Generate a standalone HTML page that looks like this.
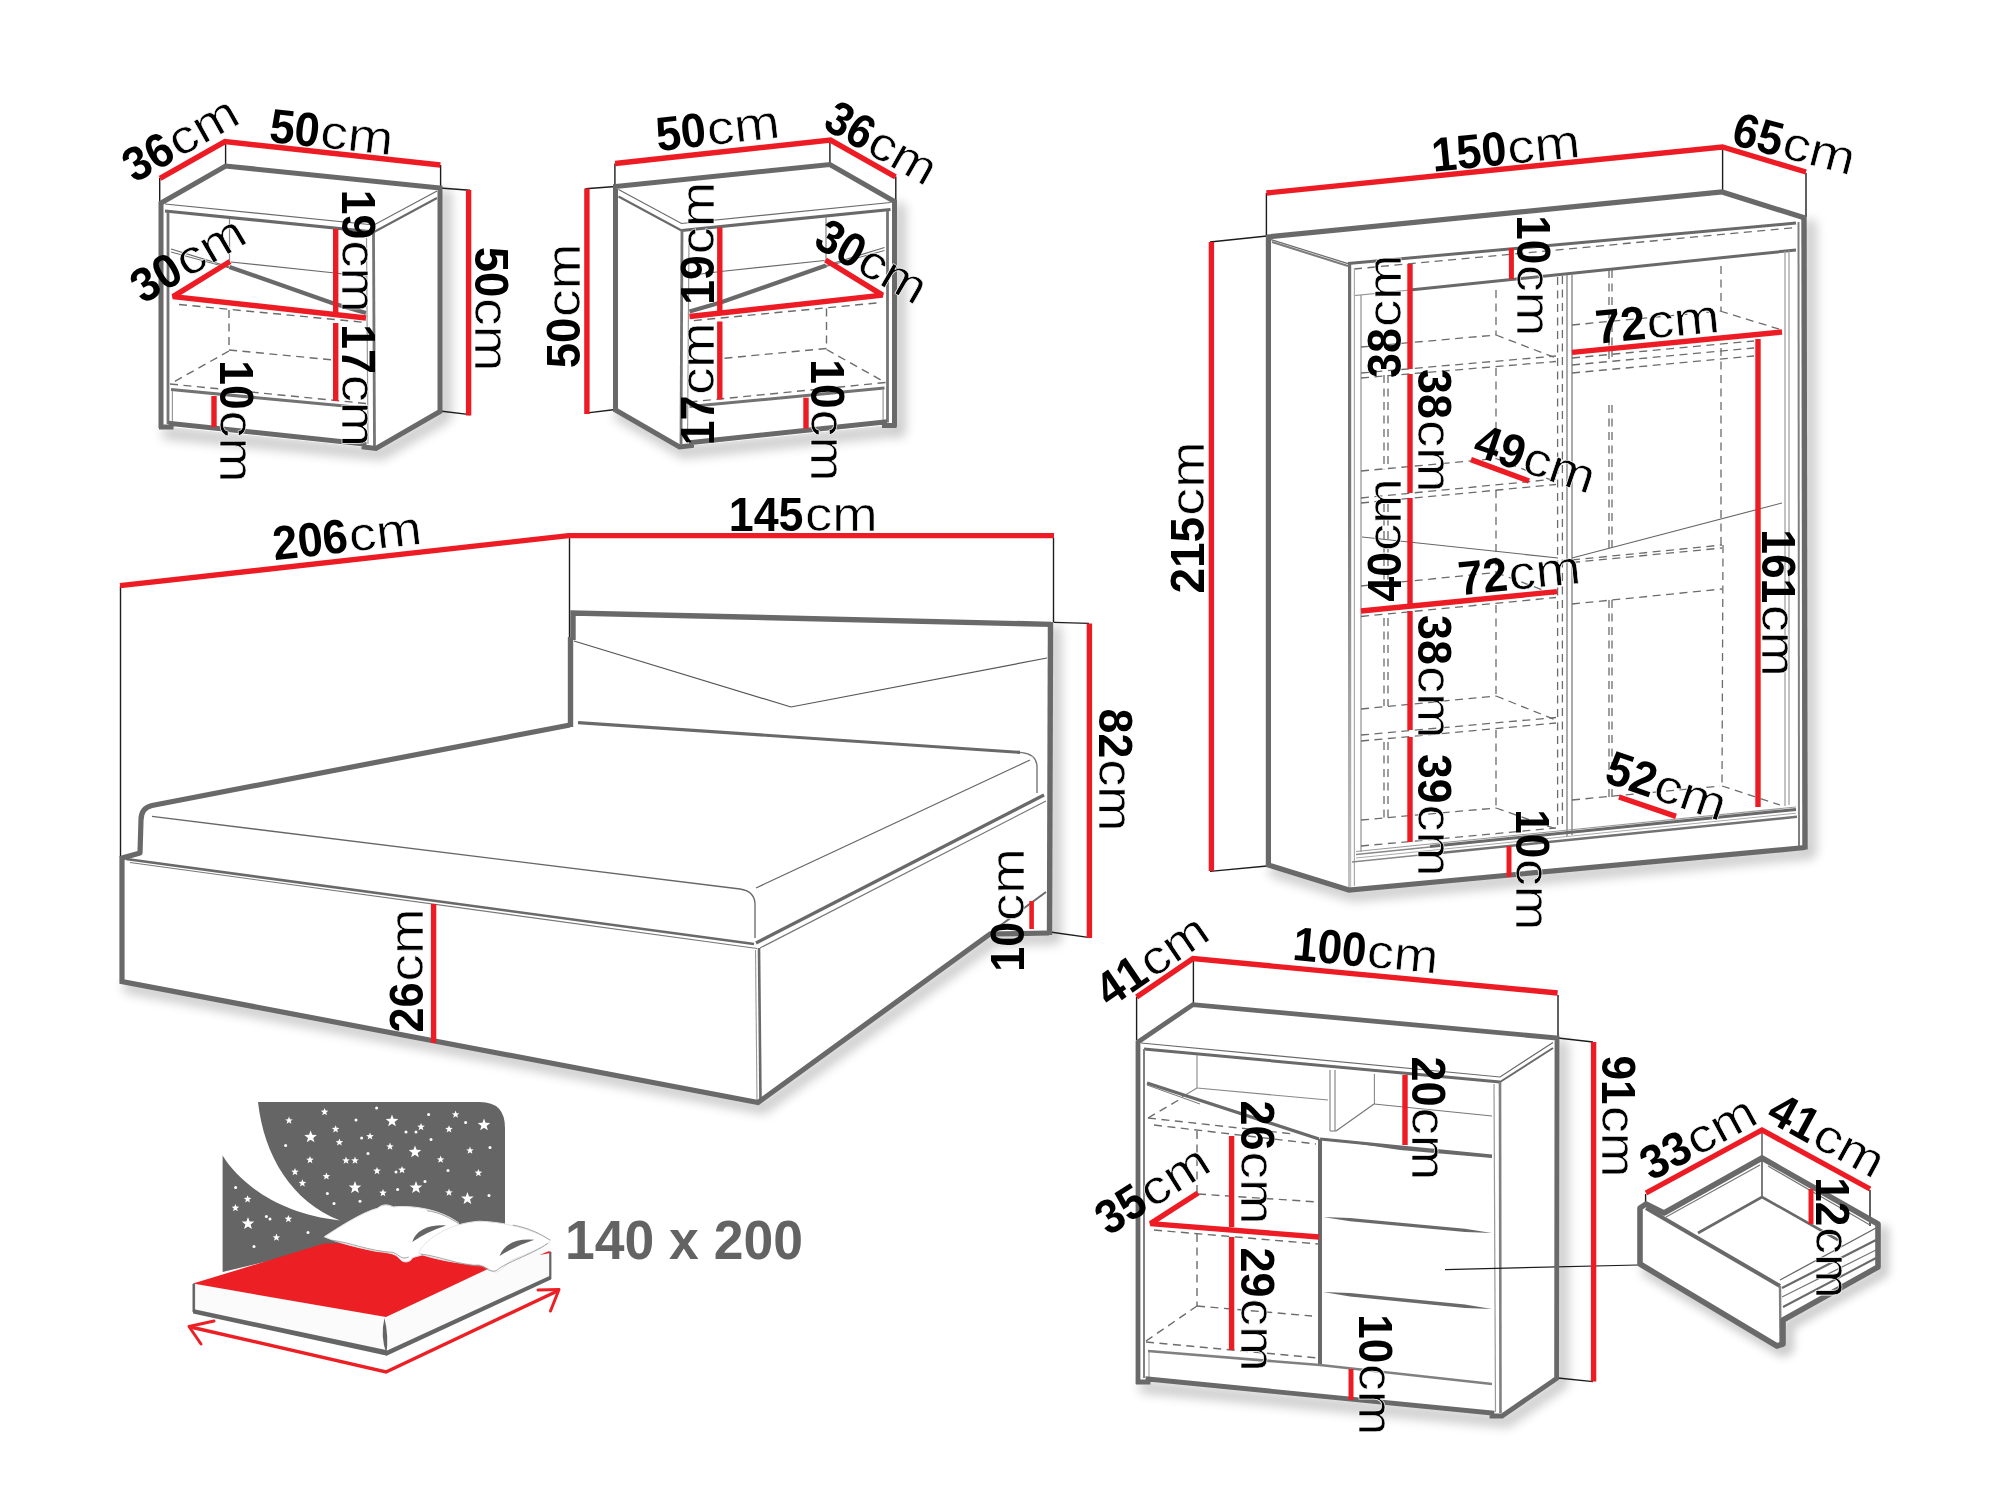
<!DOCTYPE html>
<html lang="en"><head><meta charset="utf-8"><title>Bedroom set dimensions</title>
<style>
html,body{margin:0;padding:0;background:#fff;}
body{width:2000px;height:1500px;overflow:hidden;}
svg{display:block;will-change:transform;}
text{font-family:"Liberation Sans",sans-serif;}
.n{font-weight:bold;}
.u{font-weight:normal;stroke:#fff;stroke-width:0.6px;}
</style></head><body>
<svg width="2000" height="1500" viewBox="0 0 2000 1500">
<defs>
<filter id="b5" filterUnits="userSpaceOnUse" x="0" y="0" width="2000" height="1500"><feGaussianBlur stdDeviation="5"/></filter>
<filter id="b5_5" filterUnits="userSpaceOnUse" x="0" y="0" width="2000" height="1500"><feGaussianBlur stdDeviation="5.5"/></filter>
</defs>
<rect width="2000" height="1500" fill="#fff"/>
<!-- nightstand left -->
<polyline points="445,195 445,416.5 381,453.5 168,433" fill="none" stroke="#000" stroke-width="13" stroke-linejoin="round" stroke-linecap="round" opacity="0.2" filter="url(#b5_5)"/>
<polygon points="161,203 225.6,166 440,188 440,411.5 376,448.5 364,447 171,427 161,428" fill="#fff" stroke="none" stroke-width="0"/>
<line x1="159.7" y1="178" x2="159.7" y2="203" stroke="#1c1c1c" stroke-width="1.4"/>
<line x1="225.6" y1="143" x2="225.6" y2="166" stroke="#1c1c1c" stroke-width="1.4"/>
<line x1="440.6" y1="165" x2="440.6" y2="188" stroke="#1c1c1c" stroke-width="1.4"/>
<line x1="440" y1="188" x2="470" y2="190.3" stroke="#1c1c1c" stroke-width="1.4"/>
<line x1="440" y1="411" x2="470" y2="414.6" stroke="#1c1c1c" stroke-width="1.4"/>
<polyline points="165,204 374,225 437,191" fill="none" stroke="#6a6a6a" stroke-width="1.2"/>
<line x1="165" y1="211" x2="374" y2="232" stroke="#696969" stroke-width="3.2"/>
<line x1="374" y1="232" x2="437" y2="198" stroke="#696969" stroke-width="2"/>
<line x1="168" y1="212" x2="168" y2="424" stroke="#757575" stroke-width="2.8"/>
<line x1="229.5" y1="219" x2="229.5" y2="262" stroke="#888" stroke-width="1.2"/>
<line x1="171" y1="249" x2="229.5" y2="267" stroke="#6a6a6a" stroke-width="1.2"/>
<line x1="171" y1="252" x2="229.5" y2="268" stroke="#6a6a6a" stroke-width="1"/>
<polyline points="229.5,267 335,304 366,313" fill="none" stroke="#696969" stroke-width="4.2"/>
<polyline points="231,262 335,273 366,277" fill="none" stroke="#6a6a6a" stroke-width="1.2"/>
<line x1="373.5" y1="232" x2="374.5" y2="446" stroke="#757575" stroke-width="2.8"/>
<line x1="366.5" y1="238" x2="368" y2="444" stroke="#999" stroke-width="1.2"/>
<line x1="171" y1="389.6" x2="366" y2="408" stroke="#727272" stroke-width="3"/>
<line x1="172.4" y1="391" x2="172.4" y2="423" stroke="#999" stroke-width="1.2"/>
<line x1="179" y1="304.5" x2="366" y2="322.5" stroke="#6c6c6c" stroke-width="1.4" stroke-dasharray="8 5.5"/>
<line x1="229" y1="310" x2="229" y2="350" stroke="#6c6c6c" stroke-width="1.4" stroke-dasharray="8 5.5"/>
<line x1="229" y1="350" x2="334" y2="360" stroke="#6c6c6c" stroke-width="1.4" stroke-dasharray="8 5.5"/>
<line x1="229" y1="351" x2="170" y2="384" stroke="#6c6c6c" stroke-width="1.4" stroke-dasharray="8 5.5"/>
<line x1="170" y1="384" x2="366" y2="403.5" stroke="#6c6c6c" stroke-width="1.4" stroke-dasharray="8 5.5"/>
<polyline points="161,428 161,203 225.6,166 440,188 440,411.5 376,448.5 364,447 364,444 171,423.5 171,427 159,427" fill="none" stroke="#696969" stroke-width="5"/>
<polyline points="160,178.4 225,141.6 440.4,165" fill="none" stroke="#ed1c24" stroke-width="5.4"/>
<line x1="468.6" y1="190" x2="468.6" y2="415.6" stroke="#ed1c24" stroke-width="5.4"/>
<polyline points="230,261.5 173,296.6 366,318" fill="none" stroke="#ed1c24" stroke-width="5.4" stroke-linejoin="bevel"/>
<line x1="335.7" y1="229" x2="335.7" y2="313" stroke="#ed1c24" stroke-width="5.4"/>
<line x1="335.7" y1="323" x2="335.7" y2="401" stroke="#ed1c24" stroke-width="5.4"/>
<line x1="214" y1="396" x2="214" y2="427" stroke="#ed1c24" stroke-width="5.4"/>
<g transform="translate(135 183) rotate(-29.50) scale(1.000 1) translate(-0.99 0)" fill="#000"><text class="n" font-size="48" transform="scale(0.940 1)">36</text><text class="u" font-size="47.5" transform="translate(51.29 0) scale(1.155 1)">cm</text></g>
<g transform="translate(269.5 142) rotate(6.20) scale(1.000 1) translate(-1.35 0)" fill="#000"><text class="n" font-size="48" transform="scale(0.940 1)">50</text><text class="u" font-size="47.5" transform="translate(51.06 0) scale(1.155 1)">cm</text></g>
<g transform="translate(341.5 192.5) rotate(90.00) scale(0.987 1) translate(-2.80 0)" fill="#000"><text class="n" font-size="48" transform="scale(0.940 1)">19</text><text class="u" font-size="47.5" transform="translate(51.24 0) scale(1.155 1)">cm</text></g>
<g transform="translate(341.5 327) rotate(90.00) scale(0.990 1) translate(-2.80 0)" fill="#000"><text class="n" font-size="48" transform="scale(0.940 1)">17</text><text class="u" font-size="47.5" transform="translate(50.93 0) scale(1.155 1)">cm</text></g>
<g transform="translate(143.5 304) rotate(-30.50) scale(1.000 1) translate(-0.99 0)" fill="#000"><text class="n" font-size="48" transform="scale(0.940 1)">30</text><text class="u" font-size="47.5" transform="translate(51.06 0) scale(1.155 1)">cm</text></g>
<g transform="translate(220 363) rotate(90.00) scale(0.984 1) translate(-2.80 0)" fill="#000"><text class="n" font-size="48" transform="scale(0.940 1)">10</text><text class="u" font-size="47.5" transform="translate(51.06 0) scale(1.155 1)">cm</text></g>
<g transform="translate(475 248) rotate(90.00) scale(1.006 1) translate(-1.35 0)" fill="#000"><text class="n" font-size="48" transform="scale(0.940 1)">50</text><text class="u" font-size="47.5" transform="translate(51.06 0) scale(1.155 1)">cm</text></g>
<!-- nightstand right -->
<polyline points="899.5,208.5 899.5,431.5 889.5,430.5 696.5,450.5 684.5,452 620.5,415" fill="none" stroke="#000" stroke-width="13" stroke-linejoin="round" stroke-linecap="round" opacity="0.2" filter="url(#b5_5)"/>
<polygon points="894.5,201.5 829.9,164.5 615.5,186.5 615.5,410 679.5,447 691.5,445.5 884.5,425.5 894.5,426.5" fill="#fff" stroke="none" stroke-width="0"/>
<line x1="895.8" y1="176.5" x2="895.8" y2="201.5" stroke="#1c1c1c" stroke-width="1.4"/>
<line x1="829.9" y1="141.5" x2="829.9" y2="164.5" stroke="#1c1c1c" stroke-width="1.4"/>
<line x1="614.9" y1="163.5" x2="614.9" y2="186.5" stroke="#1c1c1c" stroke-width="1.4"/>
<line x1="615.5" y1="186.5" x2="585.5" y2="188.8" stroke="#1c1c1c" stroke-width="1.4"/>
<line x1="615.5" y1="409.5" x2="585.5" y2="413.1" stroke="#1c1c1c" stroke-width="1.4"/>
<polyline points="890.5,202.5 681.5,223.5 618.5,189.5" fill="none" stroke="#6a6a6a" stroke-width="1.2"/>
<line x1="890.5" y1="209.5" x2="681.5" y2="230.5" stroke="#696969" stroke-width="3.2"/>
<line x1="681.5" y1="230.5" x2="618.5" y2="196.5" stroke="#696969" stroke-width="2"/>
<line x1="887.5" y1="210.5" x2="887.5" y2="422.5" stroke="#757575" stroke-width="2.8"/>
<line x1="826" y1="217.5" x2="826" y2="260.5" stroke="#888" stroke-width="1.2"/>
<line x1="884.5" y1="247.5" x2="826" y2="265.5" stroke="#6a6a6a" stroke-width="1.2"/>
<line x1="884.5" y1="250.5" x2="826" y2="266.5" stroke="#6a6a6a" stroke-width="1"/>
<polyline points="826,265.5 720.5,302.5 689.5,311.5" fill="none" stroke="#696969" stroke-width="4.2"/>
<polyline points="824.5,260.5 720.5,271.5 689.5,275.5" fill="none" stroke="#6a6a6a" stroke-width="1.2"/>
<line x1="682" y1="230.5" x2="681" y2="444.5" stroke="#757575" stroke-width="2.8"/>
<line x1="689" y1="236.5" x2="687.5" y2="442.5" stroke="#999" stroke-width="1.2"/>
<line x1="884.5" y1="388.1" x2="689.5" y2="406.5" stroke="#727272" stroke-width="3"/>
<line x1="883.1" y1="389.5" x2="883.1" y2="421.5" stroke="#999" stroke-width="1.2"/>
<line x1="876.5" y1="303" x2="689.5" y2="321" stroke="#6c6c6c" stroke-width="1.4" stroke-dasharray="8 5.5"/>
<line x1="826.5" y1="308.5" x2="826.5" y2="348.5" stroke="#6c6c6c" stroke-width="1.4" stroke-dasharray="8 5.5"/>
<line x1="826.5" y1="348.5" x2="721.5" y2="358.5" stroke="#6c6c6c" stroke-width="1.4" stroke-dasharray="8 5.5"/>
<line x1="826.5" y1="349.5" x2="885.5" y2="382.5" stroke="#6c6c6c" stroke-width="1.4" stroke-dasharray="8 5.5"/>
<line x1="885.5" y1="382.5" x2="689.5" y2="402" stroke="#6c6c6c" stroke-width="1.4" stroke-dasharray="8 5.5"/>
<polyline points="894.5,426.5 894.5,201.5 829.9,164.5 615.5,186.5 615.5,410 679.5,447 691.5,445.5 691.5,442.5 884.5,422 884.5,425.5 896.5,425.5" fill="none" stroke="#696969" stroke-width="5"/>
<polyline points="895.5,176.9 830.5,140.1 615.1,163.5" fill="none" stroke="#ed1c24" stroke-width="5.4"/>
<line x1="586.9" y1="188.5" x2="586.9" y2="414.1" stroke="#ed1c24" stroke-width="5.4"/>
<polyline points="825.5,260 882.5,295.1 689.5,316.5" fill="none" stroke="#ed1c24" stroke-width="5.4" stroke-linejoin="bevel"/>
<line x1="719.8" y1="227.5" x2="719.8" y2="311.5" stroke="#ed1c24" stroke-width="5.4"/>
<line x1="719.8" y1="321.5" x2="719.8" y2="399.5" stroke="#ed1c24" stroke-width="5.4"/>
<line x1="806" y1="397.7" x2="806" y2="428.5" stroke="#ed1c24" stroke-width="5.4"/>
<g transform="translate(659 151) rotate(-6.40) scale(1.000 1) translate(-1.35 0)" fill="#000"><text class="n" font-size="48" transform="scale(0.940 1)">50</text><text class="u" font-size="47.5" transform="translate(51.06 0) scale(1.155 1)">cm</text></g>
<g transform="translate(822 128) rotate(29.50) scale(0.968 1) translate(-0.99 0)" fill="#000"><text class="n" font-size="48" transform="scale(0.940 1)">36</text><text class="u" font-size="47.5" transform="translate(51.29 0) scale(1.155 1)">cm</text></g>
<g transform="translate(580 367) rotate(-90.00) scale(1.006 1) translate(-1.35 0)" fill="#000"><text class="n" font-size="48" transform="scale(0.940 1)">50</text><text class="u" font-size="47.5" transform="translate(51.06 0) scale(1.155 1)">cm</text></g>
<g transform="translate(714 302) rotate(-90.00) scale(0.987 1) translate(-2.80 0)" fill="#000"><text class="n" font-size="48" transform="scale(0.940 1)">19</text><text class="u" font-size="47.5" transform="translate(51.24 0) scale(1.155 1)">cm</text></g>
<g transform="translate(714 442.5) rotate(-90.00) scale(0.990 1) translate(-2.80 0)" fill="#000"><text class="n" font-size="48" transform="scale(0.940 1)">17</text><text class="u" font-size="47.5" transform="translate(50.93 0) scale(1.155 1)">cm</text></g>
<g transform="translate(812.5 246) rotate(30.00) scale(0.970 1) translate(-0.99 0)" fill="#000"><text class="n" font-size="48" transform="scale(0.940 1)">30</text><text class="u" font-size="47.5" transform="translate(51.06 0) scale(1.155 1)">cm</text></g>
<g transform="translate(811 362) rotate(90.00) scale(0.984 1) translate(-2.80 0)" fill="#000"><text class="n" font-size="48" transform="scale(0.940 1)">10</text><text class="u" font-size="47.5" transform="translate(51.06 0) scale(1.155 1)">cm</text></g>
<!-- wardrobe -->
<polyline points="1810,225 1810,852.5 1354,895 1275,871" fill="none" stroke="#000" stroke-width="13" stroke-linejoin="round" stroke-linecap="round" opacity="0.2" filter="url(#b5_5)"/>
<polygon points="1268.4,237 1722,192 1805,218 1805,847.5 1349,890 1268.4,865" fill="#fff" stroke="none" stroke-width="0"/>
<line x1="1266.4" y1="193" x2="1266.4" y2="236" stroke="#1c1c1c" stroke-width="1.4"/>
<line x1="1722.6" y1="149" x2="1722.6" y2="191" stroke="#1c1c1c" stroke-width="1.4"/>
<line x1="1806" y1="173" x2="1806" y2="217" stroke="#1c1c1c" stroke-width="1.4"/>
<line x1="1210" y1="242" x2="1267" y2="236" stroke="#1c1c1c" stroke-width="1.4"/>
<line x1="1210" y1="871.4" x2="1267" y2="866" stroke="#1c1c1c" stroke-width="1.4"/>
<line x1="1271" y1="239.6" x2="1348" y2="263.6" stroke="#6a6a6a" stroke-width="1.2"/>
<line x1="1272" y1="242" x2="1348" y2="266" stroke="#7a7a7a" stroke-width="2"/>
<line x1="1348" y1="263.6" x2="1796" y2="223" stroke="#696969" stroke-width="3"/>
<line x1="1354" y1="295.6" x2="1410" y2="290" stroke="#999" stroke-width="1.2"/>
<line x1="1410" y1="290" x2="1796" y2="250" stroke="#696969" stroke-width="3"/>
<line x1="1354" y1="269" x2="1796" y2="227.5" stroke="#6c6c6c" stroke-width="1.3" stroke-dasharray="8 5.5"/>
<linearGradient id="gw" gradientUnits="userSpaceOnUse" x1="0" y1="264" x2="0" y2="890"><stop offset="0" stop-color="#6e6e6e"/><stop offset="0.4" stop-color="#7a7a7a"/><stop offset="0.7" stop-color="#a4a4a4"/><stop offset="1" stop-color="#c2c2c2"/></linearGradient>
<line x1="1349.6" y1="264" x2="1349.6" y2="890" stroke="url(#gw)" stroke-width="3.2"/>
<line x1="1354.4" y1="268" x2="1354.4" y2="886" stroke="#aaa" stroke-width="1.2"/>
<line x1="1361" y1="295" x2="1361" y2="852" stroke="#999" stroke-width="1.3"/>
<line x1="1557.6" y1="277" x2="1557.6" y2="828" stroke="#6c6c6c" stroke-width="1.3" stroke-dasharray="8 5.5"/>
<line x1="1562.4" y1="276" x2="1562.4" y2="828" stroke="#6c6c6c" stroke-width="1.3" stroke-dasharray="8 5.5"/>
<line x1="1567" y1="275" x2="1567" y2="836" stroke="#888" stroke-width="1.4"/>
<line x1="1572" y1="274.5" x2="1572" y2="835" stroke="#888" stroke-width="1.4"/>
<line x1="1785" y1="251" x2="1785" y2="806" stroke="#999" stroke-width="1.2"/>
<line x1="1789" y1="250.5" x2="1789" y2="805" stroke="#999" stroke-width="1.2"/>
<line x1="1798.5" y1="222" x2="1799" y2="846" stroke="#808080" stroke-width="2"/>
<line x1="1384" y1="375" x2="1384" y2="470" stroke="#6c6c6c" stroke-width="1.3" stroke-dasharray="8 5.5"/>
<line x1="1388" y1="375" x2="1388" y2="468" stroke="#6c6c6c" stroke-width="1.3" stroke-dasharray="8 5.5"/>
<line x1="1384" y1="504" x2="1384" y2="586" stroke="#6c6c6c" stroke-width="1.3" stroke-dasharray="8 5.5"/>
<line x1="1388" y1="504" x2="1388" y2="586" stroke="#6c6c6c" stroke-width="1.3" stroke-dasharray="8 5.5"/>
<line x1="1384" y1="618" x2="1384" y2="706" stroke="#6c6c6c" stroke-width="1.3" stroke-dasharray="8 5.5"/>
<line x1="1388" y1="618" x2="1388" y2="706" stroke="#6c6c6c" stroke-width="1.3" stroke-dasharray="8 5.5"/>
<line x1="1384" y1="742" x2="1384" y2="818" stroke="#6c6c6c" stroke-width="1.3" stroke-dasharray="8 5.5"/>
<line x1="1388" y1="742" x2="1388" y2="818" stroke="#6c6c6c" stroke-width="1.3" stroke-dasharray="8 5.5"/>
<line x1="1496" y1="290" x2="1496" y2="335" stroke="#6c6c6c" stroke-width="1.3" stroke-dasharray="8 5.5"/>
<line x1="1496" y1="368" x2="1496" y2="458" stroke="#6c6c6c" stroke-width="1.3" stroke-dasharray="8 5.5"/>
<line x1="1496" y1="490" x2="1496" y2="572" stroke="#6c6c6c" stroke-width="1.3" stroke-dasharray="8 5.5"/>
<line x1="1496" y1="605" x2="1496" y2="696" stroke="#6c6c6c" stroke-width="1.3" stroke-dasharray="8 5.5"/>
<line x1="1496" y1="730" x2="1496" y2="808" stroke="#6c6c6c" stroke-width="1.3" stroke-dasharray="8 5.5"/>
<line x1="1361" y1="347" x2="1496" y2="335" stroke="#6c6c6c" stroke-width="1.3" stroke-dasharray="8 5.5"/>
<line x1="1496" y1="335" x2="1556" y2="358" stroke="#6c6c6c" stroke-width="1.3" stroke-dasharray="8 5.5"/>
<line x1="1361" y1="373" x2="1556" y2="356" stroke="#6c6c6c" stroke-width="1.3" stroke-dasharray="8 5.5"/>
<line x1="1361" y1="378" x2="1556" y2="361.5" stroke="#6c6c6c" stroke-width="1.3" stroke-dasharray="8 5.5"/>
<line x1="1361" y1="471" x2="1496" y2="458.5" stroke="#6c6c6c" stroke-width="1.3" stroke-dasharray="8 5.5"/>
<line x1="1496" y1="458.5" x2="1556" y2="482" stroke="#6c6c6c" stroke-width="1.3" stroke-dasharray="8 5.5"/>
<line x1="1361" y1="498" x2="1556" y2="479" stroke="#6c6c6c" stroke-width="1.3" stroke-dasharray="8 5.5"/>
<line x1="1361" y1="503" x2="1556" y2="484.5" stroke="#6c6c6c" stroke-width="1.3" stroke-dasharray="8 5.5"/>
<line x1="1361" y1="586" x2="1496" y2="572.5" stroke="#6c6c6c" stroke-width="1.3" stroke-dasharray="8 5.5"/>
<line x1="1496" y1="572.5" x2="1556" y2="595" stroke="#6c6c6c" stroke-width="1.3" stroke-dasharray="8 5.5"/>
<line x1="1361" y1="616.5" x2="1556" y2="597.5" stroke="#6c6c6c" stroke-width="1.3" stroke-dasharray="8 5.5"/>
<line x1="1361" y1="709" x2="1496" y2="696" stroke="#6c6c6c" stroke-width="1.3" stroke-dasharray="8 5.5"/>
<line x1="1496" y1="696" x2="1556" y2="720" stroke="#6c6c6c" stroke-width="1.3" stroke-dasharray="8 5.5"/>
<line x1="1361" y1="735" x2="1556" y2="717.5" stroke="#6c6c6c" stroke-width="1.3" stroke-dasharray="8 5.5"/>
<line x1="1361" y1="741" x2="1556" y2="723" stroke="#6c6c6c" stroke-width="1.3" stroke-dasharray="8 5.5"/>
<line x1="1361" y1="820" x2="1496" y2="808" stroke="#6c6c6c" stroke-width="1.3" stroke-dasharray="8 5.5"/>
<line x1="1496" y1="808" x2="1556" y2="829" stroke="#6c6c6c" stroke-width="1.3" stroke-dasharray="8 5.5"/>
<line x1="1361" y1="846" x2="1556" y2="828" stroke="#6c6c6c" stroke-width="1.3" stroke-dasharray="8 5.5"/>
<line x1="1362" y1="537" x2="1558" y2="558" stroke="#666" stroke-width="1.1"/>
<line x1="1572" y1="558" x2="1782" y2="503" stroke="#666" stroke-width="1.1"/>
<line x1="1609" y1="270" x2="1609" y2="360" stroke="#6c6c6c" stroke-width="1.3" stroke-dasharray="8 5.5"/>
<line x1="1612" y1="270" x2="1612" y2="357" stroke="#6c6c6c" stroke-width="1.3" stroke-dasharray="8 5.5"/>
<line x1="1609" y1="405" x2="1609" y2="553" stroke="#6c6c6c" stroke-width="1.3" stroke-dasharray="8 5.5"/>
<line x1="1612" y1="405" x2="1612" y2="550" stroke="#6c6c6c" stroke-width="1.3" stroke-dasharray="8 5.5"/>
<line x1="1609" y1="600" x2="1609" y2="797" stroke="#6c6c6c" stroke-width="1.3" stroke-dasharray="8 5.5"/>
<line x1="1612" y1="600" x2="1612" y2="797" stroke="#6c6c6c" stroke-width="1.3" stroke-dasharray="8 5.5"/>
<line x1="1721" y1="266" x2="1721" y2="311" stroke="#6c6c6c" stroke-width="1.3" stroke-dasharray="8 5.5"/>
<line x1="1721" y1="348" x2="1721" y2="545" stroke="#6c6c6c" stroke-width="1.3" stroke-dasharray="8 5.5"/>
<line x1="1723" y1="545" x2="1722" y2="786" stroke="#6c6c6c" stroke-width="1.3" stroke-dasharray="8 5.5"/>
<line x1="1572" y1="325" x2="1720" y2="311" stroke="#6c6c6c" stroke-width="1.3" stroke-dasharray="8 5.5"/>
<line x1="1720" y1="311" x2="1782" y2="330" stroke="#6c6c6c" stroke-width="1.3" stroke-dasharray="8 5.5"/>
<line x1="1572" y1="358" x2="1754" y2="341" stroke="#6c6c6c" stroke-width="1.3" stroke-dasharray="8 5.5"/>
<line x1="1572" y1="365" x2="1754" y2="348" stroke="#6c6c6c" stroke-width="1.3" stroke-dasharray="8 5.5"/>
<line x1="1572" y1="373" x2="1754" y2="356" stroke="#6c6c6c" stroke-width="1.3" stroke-dasharray="8 5.5"/>
<line x1="1572" y1="560" x2="1722" y2="545" stroke="#6c6c6c" stroke-width="1.3" stroke-dasharray="8 5.5"/>
<line x1="1572" y1="562.5" x2="1722" y2="548" stroke="#6c6c6c" stroke-width="1.3" stroke-dasharray="8 5.5"/>
<line x1="1572" y1="604" x2="1722" y2="589" stroke="#6c6c6c" stroke-width="1.3" stroke-dasharray="8 5.5"/>
<line x1="1572" y1="800" x2="1720" y2="786" stroke="#6c6c6c" stroke-width="1.3" stroke-dasharray="8 5.5"/>
<line x1="1722" y1="786" x2="1780" y2="805" stroke="#6c6c6c" stroke-width="1.3" stroke-dasharray="8 5.5"/>
<line x1="1356" y1="851.5" x2="1796" y2="807" stroke="#999" stroke-width="1.1"/>
<line x1="1356" y1="854.5" x2="1430" y2="847" stroke="#888" stroke-width="1.3"/>
<line x1="1430" y1="846.6" x2="1796" y2="809.4" stroke="#696969" stroke-width="3"/>
<line x1="1356" y1="858" x2="1796" y2="813.2" stroke="#aaa" stroke-width="1"/>
<line x1="1352" y1="862" x2="1440" y2="853" stroke="#888" stroke-width="1.4"/>
<line x1="1440" y1="853" x2="1797" y2="816.8" stroke="#727272" stroke-width="2.6"/>
<polyline points="1267,237 1722,192 1805,218" fill="none" stroke="#696969" stroke-width="5.2"/>
<polyline points="1268.4,235 1268.4,865 1349,890 1805,847.5" fill="none" stroke="#696969" stroke-width="5.2"/>
<line x1="1804" y1="216" x2="1805" y2="849.5" stroke="#696969" stroke-width="5.4"/>
<polyline points="1266.4,193 1722.4,147 1806,172" fill="none" stroke="#ed1c24" stroke-width="5.4"/>
<line x1="1211.4" y1="242" x2="1211.4" y2="871" stroke="#ed1c24" stroke-width="5.4"/>
<line x1="1511.4" y1="248" x2="1511.4" y2="279" stroke="#ed1c24" stroke-width="5"/>
<line x1="1410" y1="264" x2="1410" y2="369" stroke="#ed1c24" stroke-width="5.4"/>
<line x1="1410" y1="374" x2="1410" y2="493" stroke="#ed1c24" stroke-width="5.4"/>
<line x1="1410" y1="498" x2="1410" y2="607" stroke="#ed1c24" stroke-width="5.4"/>
<line x1="1410" y1="611" x2="1410" y2="730" stroke="#ed1c24" stroke-width="5.4"/>
<line x1="1410" y1="737" x2="1410" y2="842" stroke="#ed1c24" stroke-width="5.4"/>
<line x1="1572" y1="352.4" x2="1782" y2="332" stroke="#ed1c24" stroke-width="5.4"/>
<line x1="1758" y1="339" x2="1758" y2="807" stroke="#ed1c24" stroke-width="5.4"/>
<line x1="1471" y1="459.6" x2="1529" y2="481" stroke="#ed1c24" stroke-width="5.4"/>
<line x1="1361" y1="611" x2="1557" y2="591.6" stroke="#ed1c24" stroke-width="5.4"/>
<line x1="1619" y1="797" x2="1676" y2="816.4" stroke="#ed1c24" stroke-width="5.4"/>
<line x1="1509" y1="846" x2="1509" y2="877" stroke="#ed1c24" stroke-width="5"/>
<g transform="translate(1436 171.5) rotate(-5.65) scale(0.997 1) translate(-2.80 0)" fill="#000"><text class="n" font-size="48" transform="scale(0.940 1)">150</text><text class="u" font-size="47.5" transform="translate(76.15 0) scale(1.155 1)">cm</text></g>
<g transform="translate(1731.5 144.5) rotate(14.50) scale(1.000 1) translate(-1.62 0)" fill="#000"><text class="n" font-size="48" transform="scale(0.940 1)">65</text><text class="u" font-size="47.5" transform="translate(51.65 0) scale(1.155 1)">cm</text></g>
<g transform="translate(1204 592) rotate(-90.00) scale(1.015 1) translate(-1.53 0)" fill="#000"><text class="n" font-size="48" transform="scale(0.940 1)">215</text><text class="u" font-size="47.5" transform="translate(76.74 0) scale(1.155 1)">cm</text></g>
<g transform="translate(1517 218) rotate(90.00) scale(0.976 1) translate(-2.80 0)" fill="#000"><text class="n" font-size="48" transform="scale(0.940 1)">10</text><text class="u" font-size="47.5" transform="translate(51.06 0) scale(1.155 1)">cm</text></g>
<g transform="translate(1401 377) rotate(-90.00) scale(0.991 1) translate(-0.99 0)" fill="#000"><text class="n" font-size="48" transform="scale(0.940 1)">38</text><text class="u" font-size="47.5" transform="translate(51.52 0) scale(1.155 1)">cm</text></g>
<g transform="translate(1418 370) rotate(90.00) scale(0.991 1) translate(-0.99 0)" fill="#000"><text class="n" font-size="48" transform="scale(0.940 1)">38</text><text class="u" font-size="47.5" transform="translate(51.52 0) scale(1.155 1)">cm</text></g>
<g transform="translate(1599 343.5) rotate(-5.50) scale(1.000 1) translate(-1.90 0)" fill="#000"><text class="n" font-size="48" transform="scale(0.940 1)">72</text><text class="u" font-size="47.5" transform="translate(51.11 0) scale(1.155 1)">cm</text></g>
<g transform="translate(1472 455) rotate(18.50) scale(1.000 1) translate(-0.68 0)" fill="#000"><text class="n" font-size="48" transform="scale(0.940 1)">49</text><text class="u" font-size="47.5" transform="translate(51.24 0) scale(1.155 1)">cm</text></g>
<g transform="translate(1401 601) rotate(-90.00) scale(0.992 1) translate(-0.68 0)" fill="#000"><text class="n" font-size="48" transform="scale(0.940 1)">40</text><text class="u" font-size="47.5" transform="translate(51.06 0) scale(1.155 1)">cm</text></g>
<g transform="translate(1461.5 595) rotate(-5.60) scale(0.989 1) translate(-1.90 0)" fill="#000"><text class="n" font-size="48" transform="scale(0.940 1)">72</text><text class="u" font-size="47.5" transform="translate(51.11 0) scale(1.155 1)">cm</text></g>
<g transform="translate(1418 616) rotate(90.00) scale(0.991 1) translate(-0.99 0)" fill="#000"><text class="n" font-size="48" transform="scale(0.940 1)">38</text><text class="u" font-size="47.5" transform="translate(51.52 0) scale(1.155 1)">cm</text></g>
<g transform="translate(1418 755) rotate(90.00) scale(0.985 1) translate(-0.99 0)" fill="#000"><text class="n" font-size="48" transform="scale(0.940 1)">39</text><text class="u" font-size="47.5" transform="translate(51.24 0) scale(1.155 1)">cm</text></g>
<g transform="translate(1762 532) rotate(90.00) scale(0.983 1) translate(-2.80 0)" fill="#000"><text class="n" font-size="48" transform="scale(0.940 1)">161</text><text class="u" font-size="47.5" transform="translate(76.74 0) scale(1.155 1)">cm</text></g>
<g transform="translate(1604 782) rotate(18.80) scale(1.000 1) translate(-1.35 0)" fill="#000"><text class="n" font-size="48" transform="scale(0.940 1)">52</text><text class="u" font-size="47.5" transform="translate(51.11 0) scale(1.155 1)">cm</text></g>
<g transform="translate(1516 812) rotate(90.00) scale(0.976 1) translate(-2.80 0)" fill="#000"><text class="n" font-size="48" transform="scale(0.940 1)">10</text><text class="u" font-size="47.5" transform="translate(51.06 0) scale(1.155 1)">cm</text></g>
<!-- bed -->
<polyline points="1055,631 1055,938 995,939 763,1107.5 129,987" fill="none" stroke="#000" stroke-width="13" stroke-linejoin="round" stroke-linecap="round" opacity="0.2" filter="url(#b5_5)"/>
<polygon points="122,858 140,853 141,820 152,805.5 570,725 570.5,637 573,613 1051,624.4 1049.5,935 990,934 758,1102.5 122,981.5" fill="#fff" stroke="none" stroke-width="0"/>
<line x1="120.5" y1="586" x2="120.5" y2="857" stroke="#1c1c1c" stroke-width="1.4"/>
<line x1="569.5" y1="538" x2="569.5" y2="638" stroke="#1c1c1c" stroke-width="1.4"/>
<line x1="1053.5" y1="538" x2="1053.5" y2="622" stroke="#1c1c1c" stroke-width="1.4"/>
<line x1="1053.6" y1="622.4" x2="1089" y2="623.4" stroke="#1c1c1c" stroke-width="1.4"/>
<line x1="1050" y1="932" x2="1090" y2="937.6" stroke="#1c1c1c" stroke-width="1.4"/>
<polyline points="574,641 791,707 1047,658" fill="none" stroke="#555" stroke-width="1.2"/>
<path d="M152,816.4 L740,889 Q754,891 755,903 L755,938" fill="none" stroke="#666" stroke-width="1.3"/>
<line x1="756" y1="888" x2="1030" y2="760" stroke="#666" stroke-width="1.2"/>
<path d="M578,722.6 L1022,752.6 Q1036,754 1037,766 L1037,793" fill="none" stroke="#777" stroke-width="1.4"/>
<line x1="578" y1="722.6" x2="1020" y2="752.4" stroke="#696969" stroke-width="3.2"/>
<line x1="126" y1="859" x2="754" y2="944" stroke="#696969" stroke-width="2.6"/>
<line x1="130" y1="862.5" x2="757" y2="948.5" stroke="#777" stroke-width="1.1"/>
<line x1="756" y1="943" x2="1044" y2="795" stroke="#696969" stroke-width="3.2"/>
<line x1="760" y1="948" x2="1046" y2="801" stroke="#777" stroke-width="1.2"/>
<line x1="759" y1="948" x2="760.5" y2="1101" stroke="#696969" stroke-width="2.6"/>
<line x1="755.5" y1="950" x2="757" y2="1100" stroke="#999" stroke-width="1.1"/>
<line x1="990" y1="933" x2="1046" y2="892" stroke="#696969" stroke-width="2"/>
<path d="M570,725 L152,805.5 Q141,808 141,820 L140,853 L122,858" fill="none" stroke="#696969" stroke-width="5.2" stroke-linejoin="round"/>
<polyline points="573,640 573,613 1051,624.4" fill="none" stroke="#696969" stroke-width="5.4"/>
<line x1="570.5" y1="637" x2="570.5" y2="727" stroke="#696969" stroke-width="5.4"/>
<polyline points="122,856 122,981.5 758,1102.5 990,934 1049,933" fill="none" stroke="#696969" stroke-width="5.2"/>
<line x1="1050.5" y1="622" x2="1049.5" y2="935" stroke="#696969" stroke-width="5.4"/>
<polyline points="120,585.6 568.5,535.6 1054,535.6" fill="none" stroke="#ed1c24" stroke-width="5.4"/>
<line x1="1089.4" y1="623.4" x2="1089.4" y2="938" stroke="#ed1c24" stroke-width="5.4"/>
<line x1="433.6" y1="904" x2="433.6" y2="1043" stroke="#ed1c24" stroke-width="5.4"/>
<line x1="1031.6" y1="901" x2="1031.6" y2="929" stroke="#ed1c24" stroke-width="4.6"/>
<g transform="translate(276 560) rotate(-6.36) scale(1.000 1) translate(-1.53 0)" fill="#000"><text class="n" font-size="48" transform="scale(0.940 1)">206</text><text class="u" font-size="47.5" transform="translate(76.38 0) scale(1.155 1)">cm</text></g>
<g transform="translate(731.5 530.5) rotate(0.00) scale(0.993 1) translate(-2.80 0)" fill="#000"><text class="n" font-size="48" transform="scale(0.940 1)">145</text><text class="u" font-size="47.5" transform="translate(76.74 0) scale(1.155 1)">cm</text></g>
<g transform="translate(1098.5 710) rotate(90.00) scale(0.989 1) translate(-1.40 0)" fill="#000"><text class="n" font-size="48" transform="scale(0.940 1)">82</text><text class="u" font-size="47.5" transform="translate(51.11 0) scale(1.155 1)">cm</text></g>
<g transform="translate(1024 969) rotate(-90.00) scale(0.993 1) translate(-2.80 0)" fill="#000"><text class="n" font-size="48" transform="scale(0.940 1)">10</text><text class="u" font-size="47.5" transform="translate(51.06 0) scale(1.155 1)">cm</text></g>
<g transform="translate(423 1031) rotate(-90.00) scale(0.997 1) translate(-1.53 0)" fill="#000"><text class="n" font-size="48" transform="scale(0.940 1)">26</text><text class="u" font-size="47.5" transform="translate(51.29 0) scale(1.155 1)">cm</text></g>
<!-- mattress icon -->
<path d="M 222.6,1155.6 C 240.0,1184.0 280.0,1214.0 340.0,1220.4 C 292.0,1202.0 264.0,1156.0 258.0,1102.0 L 480.0,1102.0 Q 505.0,1102.0 505.0,1128.0 L 505.0,1242.0 L 324.0,1248.0 L 222.6,1272.0 Z" fill="#656565"/>
<path d="M310.6,1130.4 L312.2,1134.8 L316.9,1135.0 L313.2,1137.9 L314.5,1142.3 L310.6,1139.8 L306.7,1142.3 L308.0,1137.9 L304.3,1135.0 L309.0,1134.8Z M392.0,1114.4 L393.6,1118.8 L398.3,1119.0 L394.6,1121.9 L395.9,1126.3 L392.0,1123.8 L388.1,1126.3 L389.4,1121.9 L385.7,1119.0 L390.4,1118.8Z M484.0,1118.4 L485.6,1122.8 L490.3,1123.0 L486.6,1125.9 L487.9,1130.3 L484.0,1127.8 L480.1,1130.3 L481.4,1125.9 L477.7,1123.0 L482.4,1122.8Z M415.0,1145.4 L416.6,1149.8 L421.3,1150.0 L417.6,1152.9 L418.9,1157.3 L415.0,1154.8 L411.1,1157.3 L412.4,1152.9 L408.7,1150.0 L413.4,1149.8Z M355.0,1181.0 L356.6,1185.4 L361.3,1185.6 L357.6,1188.5 L358.9,1192.9 L355.0,1190.4 L351.1,1192.9 L352.4,1188.5 L348.7,1185.6 L353.4,1185.4Z M416.0,1181.0 L417.6,1185.4 L422.3,1185.6 L418.6,1188.5 L419.9,1192.9 L416.0,1190.4 L412.1,1192.9 L413.4,1188.5 L409.7,1185.6 L414.4,1185.4Z M467.4,1192.0 L469.0,1196.4 L473.7,1196.6 L470.0,1199.5 L471.3,1203.9 L467.4,1201.4 L463.5,1203.9 L464.8,1199.5 L461.1,1196.6 L465.8,1196.4Z M248.0,1217.0 L249.6,1221.4 L254.3,1221.6 L250.6,1224.5 L251.9,1228.9 L248.0,1226.4 L244.1,1228.9 L245.4,1224.5 L241.7,1221.6 L246.4,1221.4Z M289.0,1116.6 L290.0,1119.2 L292.8,1119.4 L290.6,1121.1 L291.4,1123.8 L289.0,1122.3 L286.6,1123.8 L287.4,1121.1 L285.2,1119.4 L288.0,1119.2Z M324.6,1108.0 L325.6,1110.6 L328.4,1110.8 L326.2,1112.5 L327.0,1115.2 L324.6,1113.7 L322.2,1115.2 L323.0,1112.5 L320.8,1110.8 L323.6,1110.6Z M335.6,1125.2 L336.6,1127.8 L339.4,1128.0 L337.2,1129.7 L338.0,1132.4 L335.6,1130.9 L333.2,1132.4 L334.0,1129.7 L331.8,1128.0 L334.6,1127.8Z M339.4,1138.4 L340.4,1141.0 L343.2,1141.2 L341.0,1142.9 L341.8,1145.6 L339.4,1144.1 L337.0,1145.6 L337.8,1142.9 L335.6,1141.2 L338.4,1141.0Z M370.0,1132.4 L371.0,1135.0 L373.8,1135.2 L371.6,1136.9 L372.4,1139.6 L370.0,1138.1 L367.6,1139.6 L368.4,1136.9 L366.2,1135.2 L369.0,1135.0Z M390.0,1142.6 L391.0,1145.2 L393.8,1145.4 L391.6,1147.1 L392.4,1149.8 L390.0,1148.3 L387.6,1149.8 L388.4,1147.1 L386.2,1145.4 L389.0,1145.2Z M421.0,1123.0 L422.0,1125.6 L424.8,1125.8 L422.6,1127.5 L423.4,1130.2 L421.0,1128.7 L418.6,1130.2 L419.4,1127.5 L417.2,1125.8 L420.0,1125.6Z M449.0,1125.2 L450.0,1127.8 L452.8,1128.0 L450.6,1129.7 L451.4,1132.4 L449.0,1130.9 L446.6,1132.4 L447.4,1129.7 L445.2,1128.0 L448.0,1127.8Z M455.6,1110.6 L456.6,1113.2 L459.4,1113.4 L457.2,1115.1 L458.0,1117.8 L455.6,1116.3 L453.2,1117.8 L454.0,1115.1 L451.8,1113.4 L454.6,1113.2Z M470.0,1146.6 L471.0,1149.2 L473.8,1149.4 L471.6,1151.1 L472.4,1153.8 L470.0,1152.3 L467.6,1153.8 L468.4,1151.1 L466.2,1149.4 L469.0,1149.2Z M440.6,1155.6 L441.6,1158.2 L444.4,1158.4 L442.2,1160.1 L443.0,1162.8 L440.6,1161.3 L438.2,1162.8 L439.0,1160.1 L436.8,1158.4 L439.6,1158.2Z M310.0,1156.0 L311.0,1158.6 L313.8,1158.8 L311.6,1160.5 L312.4,1163.2 L310.0,1161.7 L307.6,1163.2 L308.4,1160.5 L306.2,1158.8 L309.0,1158.6Z M346.0,1156.6 L347.0,1159.2 L349.8,1159.4 L347.6,1161.1 L348.4,1163.8 L346.0,1162.3 L343.6,1163.8 L344.4,1161.1 L342.2,1159.4 L345.0,1159.2Z M355.0,1156.6 L356.0,1159.2 L358.8,1159.4 L356.6,1161.1 L357.4,1163.8 L355.0,1162.3 L352.6,1163.8 L353.4,1161.1 L351.2,1159.4 L354.0,1159.2Z M295.0,1168.0 L296.0,1170.6 L298.8,1170.8 L296.6,1172.5 L297.4,1175.2 L295.0,1173.7 L292.6,1175.2 L293.4,1172.5 L291.2,1170.8 L294.0,1170.6Z M302.4,1179.2 L303.4,1181.8 L306.2,1182.0 L304.0,1183.7 L304.8,1186.4 L302.4,1184.9 L300.0,1186.4 L300.8,1183.7 L298.6,1182.0 L301.4,1181.8Z M326.4,1172.4 L327.4,1175.0 L330.2,1175.2 L328.0,1176.9 L328.8,1179.6 L326.4,1178.1 L324.0,1179.6 L324.8,1176.9 L322.6,1175.2 L325.4,1175.0Z M377.0,1167.0 L378.0,1169.6 L380.8,1169.8 L378.6,1171.5 L379.4,1174.2 L377.0,1172.7 L374.6,1174.2 L375.4,1171.5 L373.2,1169.8 L376.0,1169.6Z M402.0,1166.0 L403.0,1168.6 L405.8,1168.8 L403.6,1170.5 L404.4,1173.2 L402.0,1171.7 L399.6,1173.2 L400.4,1170.5 L398.2,1168.8 L401.0,1168.6Z M383.0,1189.0 L384.0,1191.6 L386.8,1191.8 L384.6,1193.5 L385.4,1196.2 L383.0,1194.7 L380.6,1196.2 L381.4,1193.5 L379.2,1191.8 L382.0,1191.6Z M449.0,1188.6 L450.0,1191.2 L452.8,1191.4 L450.6,1193.1 L451.4,1195.8 L449.0,1194.3 L446.6,1195.8 L447.4,1193.1 L445.2,1191.4 L448.0,1191.2Z M478.4,1169.0 L479.4,1171.6 L482.2,1171.8 L480.0,1173.5 L480.8,1176.2 L478.4,1174.7 L476.0,1176.2 L476.8,1173.5 L474.6,1171.8 L477.4,1171.6Z M247.6,1195.2 L248.6,1197.8 L251.4,1198.0 L249.2,1199.7 L250.0,1202.4 L247.6,1200.9 L245.2,1202.4 L246.0,1199.7 L243.8,1198.0 L246.6,1197.8Z M235.4,1204.0 L236.4,1206.6 L239.2,1206.8 L237.0,1208.5 L237.8,1211.2 L235.4,1209.7 L233.0,1211.2 L233.8,1208.5 L231.6,1206.8 L234.4,1206.6Z M288.4,1215.0 L289.4,1217.6 L292.2,1217.8 L290.0,1219.5 L290.8,1222.2 L288.4,1220.7 L286.0,1222.2 L286.8,1219.5 L284.6,1217.8 L287.4,1217.6Z M276.4,1233.6 L277.4,1236.2 L280.2,1236.4 L278.0,1238.1 L278.8,1240.8 L276.4,1239.3 L274.0,1240.8 L274.8,1238.1 L272.6,1236.4 L275.4,1236.2Z" fill="#fff"/>
<g fill="#fff"><circle cx="376.6" cy="1108.0" r="1.5"/><circle cx="428.6" cy="1114.4" r="1.5"/><circle cx="356.0" cy="1120.0" r="1.5"/><circle cx="406.0" cy="1132.0" r="1.5"/><circle cx="416.0" cy="1132.0" r="1.5"/><circle cx="465.6" cy="1122.6" r="1.5"/><circle cx="431.0" cy="1139.6" r="1.5"/><circle cx="285.6" cy="1145.4" r="1.5"/><circle cx="368.0" cy="1153.6" r="1.5"/><circle cx="361.6" cy="1138.0" r="1.5"/><circle cx="396.0" cy="1172.0" r="1.5"/><circle cx="448.0" cy="1170.6" r="1.5"/><circle cx="425.0" cy="1181.6" r="1.5"/><circle cx="490.0" cy="1147.6" r="1.5"/><circle cx="489.0" cy="1195.6" r="1.5"/><circle cx="397.6" cy="1189.6" r="1.5"/><circle cx="327.4" cy="1193.6" r="1.5"/><circle cx="334.0" cy="1203.4" r="1.5"/><circle cx="360.0" cy="1201.2" r="1.5"/><circle cx="235.6" cy="1187.4" r="1.5"/><circle cx="266.4" cy="1216.4" r="1.5"/><circle cx="270.0" cy="1219.0" r="1.5"/><circle cx="308.0" cy="1232.6" r="1.5"/><circle cx="254.0" cy="1246.4" r="1.5"/></g>
<polygon points="193,1283.6 386,1317 550.5,1239.5 550.5,1278.5 386,1353 193,1312" fill="#fbfbfb" stroke="none" stroke-width="0"/>
<polygon points="193,1283.6 324,1243.5 550.5,1239.5 386,1317" fill="#ec1f24" stroke="none" stroke-width="0"/>
<path d="M193,1309 L386,1350 L386,1355.5 L193,1313.5 Z" fill="#656565"/>
<path d="M193,1284 L194.6,1284 L194.6,1312 L193,1312 Z" fill="#656565" stroke="#656565" stroke-width="1"/>
<path d="M386,1351 L550.5,1275.5 L551,1279.5 L386,1356 Z" fill="#656565"/>
<path d="M549.6,1252 L551,1252 L551,1279 L549.6,1279 Z" fill="#656565" stroke="#656565" stroke-width="0.8"/>
<path d="M384.5,1318 Q388.8,1336 386.5,1354 Q380,1336 384.5,1318 Z" fill="#656565"/>
<path d="M 324.3,1236.8 C 336.0,1229.0 362.0,1212.1 377.6,1208.2 C 382.8,1203.7 388.0,1204.3 393.2,1206.9 C 414.0,1205.0 440.0,1209.5 458.2,1222.5 L 459.5,1244.6 L 412.7,1257.6 C 410.1,1262.8 403.6,1263.5 399.7,1258.9 C 395.8,1252.4 382.8,1252.4 375.0,1251.1 C 355.5,1247.2 336.0,1242.0 324.3,1236.8 Z" fill="#fff" stroke="#e4e4e4" stroke-width="1"/>
<path d="M 419.2,1251.1 C 427.0,1239.4 446.5,1223.8 479.0,1221.2 C 505.0,1221.9 531.0,1229.0 550.5,1240.1 C 551.8,1243.3 531.0,1252.4 511.5,1260.2 C 505.0,1265.4 499.8,1273.2 494.6,1271.9 C 489.4,1270.6 485.5,1265.4 479.0,1264.8 C 459.5,1264.1 433.5,1258.9 419.2,1253.7 Z" fill="#fff" stroke="#e4e4e4" stroke-width="1"/>
<path d="M 332.1,1240.4 C 349.0,1242.0 368.5,1251.1 393.2,1252.4 C 399.7,1255.0 401.0,1260.2 408.8,1257.0" fill="none" stroke="#9a9a9a" stroke-width="0.9"/>
<path d="M 420.5,1254.0 C 440.0,1256.3 459.5,1265.4 481.6,1266.1 C 488.1,1269.3 492.0,1273.2 497.2,1270.0 C 505.0,1262.8 531.0,1255.0 547.9,1243.3" fill="none" stroke="#9a9a9a" stroke-width="0.9"/>
<path d="M 427.0,1210.8 C 440.0,1212.1 450.4,1218.6 458.2,1223.2" fill="none" stroke="#9a9a9a" stroke-width="0.9"/>
<path d="M 512.8,1225.1 C 528.4,1227.7 541.4,1234.2 549.9,1240.1" fill="none" stroke="#9a9a9a" stroke-width="0.9"/>
<path d="M 412.2,1241.9 Q 418.6,1224.1 446.2,1225.4 Q 427.7,1231.3 412.2,1241.9 Z" fill="#656565"/>
<path d="M 499.5,1255.9 Q 507.0,1237.6 534.3,1239.7 Q 516.1,1245.6 499.5,1255.9 Z" fill="#656565"/>
<polyline points="190.5,1327 386,1372 558.5,1290.5" fill="none" stroke="#ec1f24" stroke-width="3.4" stroke-linejoin="miter"/>
<path d="M214,1321 L189,1326.5 L201,1344" fill="none" stroke="#ec1f24" stroke-width="3" stroke-linecap="round" stroke-linejoin="round"/>
<path d="M538,1290 L559,1289.5 L550.5,1311" fill="none" stroke="#ec1f24" stroke-width="3" stroke-linecap="round" stroke-linejoin="round"/>
<path d="M 539.5,1255.0 L 549.2,1251.1 L 550.5,1253.1 Z" fill="#ec1f24"/>
<text x="565" y="1258.5" font-size="56" font-weight="bold" fill="#636363" textLength="238" lengthAdjust="spacingAndGlyphs">140 x 200</text>
<!-- chest of drawers -->
<polyline points="1562,1045 1562,1383 1507,1421 1145,1387" fill="none" stroke="#000" stroke-width="13" stroke-linejoin="round" stroke-linecap="round" opacity="0.2" filter="url(#b5_5)"/>
<polygon points="1138,1042 1193,1004.6 1557,1038 1557,1378 1502,1416 1492,1413 1148,1380 1138,1382" fill="#fff" stroke="none" stroke-width="0"/>
<line x1="1136.6" y1="997" x2="1136.6" y2="1040" stroke="#1c1c1c" stroke-width="1.4"/>
<line x1="1193.4" y1="961" x2="1193.4" y2="1003" stroke="#1c1c1c" stroke-width="1.4"/>
<line x1="1558" y1="995" x2="1558" y2="1038" stroke="#1c1c1c" stroke-width="1.4"/>
<line x1="1558" y1="1038" x2="1593" y2="1042" stroke="#1c1c1c" stroke-width="1.4"/>
<line x1="1558" y1="1378" x2="1593" y2="1381.6" stroke="#1c1c1c" stroke-width="1.4"/>
<polyline points="1141,1043 1500,1077 1553,1042.4" fill="none" stroke="#6a6a6a" stroke-width="1.2"/>
<line x1="1144" y1="1049" x2="1500" y2="1082" stroke="#696969" stroke-width="3"/>
<line x1="1500" y1="1082" x2="1553" y2="1048" stroke="#696969" stroke-width="2"/>
<line x1="1144" y1="1049" x2="1144" y2="1378" stroke="#808080" stroke-width="2"/>
<line x1="1149" y1="1350" x2="1149" y2="1377" stroke="#999" stroke-width="1.1"/>
<line x1="1500" y1="1082" x2="1500.5" y2="1413" stroke="#808080" stroke-width="2.6"/>
<line x1="1494" y1="1084" x2="1495.5" y2="1412" stroke="#999" stroke-width="1.2"/>
<line x1="1197" y1="1055" x2="1197" y2="1088" stroke="#888" stroke-width="1.1"/>
<line x1="1197" y1="1088" x2="1328" y2="1100" stroke="#888" stroke-width="1.1"/>
<line x1="1197" y1="1088" x2="1182" y2="1097" stroke="#888" stroke-width="1.1"/>
<line x1="1330" y1="1070" x2="1330" y2="1131" stroke="#888" stroke-width="1.2"/>
<line x1="1335" y1="1070" x2="1335" y2="1131" stroke="#888" stroke-width="1.2"/>
<line x1="1330" y1="1131" x2="1336" y2="1131" stroke="#888" stroke-width="1.2"/>
<line x1="1336" y1="1131" x2="1374" y2="1104" stroke="#777" stroke-width="1.2"/>
<line x1="1374.4" y1="1074" x2="1374.4" y2="1104" stroke="#888" stroke-width="1.1"/>
<line x1="1374" y1="1104" x2="1492" y2="1116" stroke="#777" stroke-width="1.2"/>
<line x1="1147" y1="1083" x2="1319" y2="1139" stroke="#696969" stroke-width="3.4"/>
<line x1="1147" y1="1085" x2="1200" y2="1104" stroke="#777" stroke-width="1"/>
<line x1="1320" y1="1139" x2="1320" y2="1364" stroke="#696969" stroke-width="4"/>
<path d="M1320,1138 L1492,1155.5 L1492,1158 L1400,1150 Z" fill="#696969"/>
<line x1="1320" y1="1139" x2="1492" y2="1156" stroke="#696969" stroke-width="3.2"/>
<polygon points="1323,1217 1350,1217.9 1465,1228.7 1492,1233 1465,1232.1 1350,1221.3" fill="#696969" stroke="none" stroke-width="0"/>
<polygon points="1323,1292 1350,1293 1465,1304.6 1492,1309 1465,1308 1350,1296.4" fill="#696969" stroke="none" stroke-width="0"/>
<polyline points="1148,1351 1320,1365 1492,1384" fill="none" stroke="#808080" stroke-width="2.6"/>
<line x1="1148" y1="1118" x2="1182" y2="1098" stroke="#6c6c6c" stroke-width="1.4" stroke-dasharray="8 5.5"/>
<line x1="1148" y1="1118" x2="1294" y2="1134" stroke="#6c6c6c" stroke-width="1.4" stroke-dasharray="8 5.5"/>
<line x1="1154" y1="1125" x2="1316" y2="1144" stroke="#6c6c6c" stroke-width="1.4" stroke-dasharray="8 5.5"/>
<line x1="1197" y1="1131" x2="1197" y2="1193" stroke="#6c6c6c" stroke-width="1.4" stroke-dasharray="8 5.5"/>
<line x1="1198" y1="1194" x2="1318" y2="1202" stroke="#6c6c6c" stroke-width="1.4" stroke-dasharray="8 5.5"/>
<line x1="1154" y1="1230" x2="1318" y2="1244" stroke="#6c6c6c" stroke-width="1.4" stroke-dasharray="8 5.5"/>
<line x1="1197" y1="1234" x2="1197" y2="1306" stroke="#6c6c6c" stroke-width="1.4" stroke-dasharray="8 5.5"/>
<line x1="1197" y1="1306" x2="1312" y2="1316" stroke="#6c6c6c" stroke-width="1.4" stroke-dasharray="8 5.5"/>
<line x1="1197" y1="1306" x2="1146" y2="1341" stroke="#6c6c6c" stroke-width="1.4" stroke-dasharray="8 5.5"/>
<line x1="1146" y1="1342" x2="1318" y2="1358" stroke="#6c6c6c" stroke-width="1.4" stroke-dasharray="8 5.5"/>
<line x1="1445" y1="1269.6" x2="1638" y2="1265" stroke="#1c1c1c" stroke-width="1.2"/>
<polyline points="1138,1384 1138,1042 1193,1004.6 1557,1038 1556.6,1378.5 1502,1416 1492,1416 1492,1413 1148,1379 1148,1382 1136,1382" fill="none" stroke="#696969" stroke-width="4.8"/>
<polyline points="1136.6,997 1193,958.6 1557.6,993" fill="none" stroke="#ed1c24" stroke-width="5.4"/>
<line x1="1593.6" y1="1042" x2="1593.6" y2="1381.6" stroke="#ed1c24" stroke-width="5.4"/>
<line x1="1405" y1="1075" x2="1405" y2="1145" stroke="#ed1c24" stroke-width="5.4"/>
<line x1="1231.6" y1="1136" x2="1231.6" y2="1227" stroke="#ed1c24" stroke-width="5.4"/>
<line x1="1231.6" y1="1237" x2="1231.6" y2="1350" stroke="#ed1c24" stroke-width="5.4"/>
<polyline points="1198,1193 1150.5,1223.6 1319,1237" fill="none" stroke="#ed1c24" stroke-width="5.4" stroke-linejoin="bevel"/>
<line x1="1351" y1="1369" x2="1351" y2="1400" stroke="#ed1c24" stroke-width="5"/>
<g transform="translate(1110 1008) rotate(-34.20) scale(1.000 1) translate(-0.68 0)" fill="#000"><text class="n" font-size="48" transform="scale(0.940 1)">41</text><text class="u" font-size="47.5" transform="translate(51.65 0) scale(1.155 1)">cm</text></g>
<g transform="translate(1294.5 960) rotate(5.45) scale(0.976 1) translate(-2.80 0)" fill="#000"><text class="n" font-size="48" transform="scale(0.940 1)">100</text><text class="u" font-size="47.5" transform="translate(76.15 0) scale(1.155 1)">cm</text></g>
<g transform="translate(1412 1058) rotate(90.00) scale(0.999 1) translate(-1.53 0)" fill="#000"><text class="n" font-size="48" transform="scale(0.940 1)">20</text><text class="u" font-size="47.5" transform="translate(51.06 0) scale(1.155 1)">cm</text></g>
<g transform="translate(1241 1102) rotate(90.00) scale(0.997 1) translate(-1.53 0)" fill="#000"><text class="n" font-size="48" transform="scale(0.940 1)">26</text><text class="u" font-size="47.5" transform="translate(51.29 0) scale(1.155 1)">cm</text></g>
<g transform="translate(1241 1249) rotate(90.00) scale(0.998 1) translate(-1.53 0)" fill="#000"><text class="n" font-size="48" transform="scale(0.940 1)">29</text><text class="u" font-size="47.5" transform="translate(51.24 0) scale(1.155 1)">cm</text></g>
<g transform="translate(1109 1236) rotate(-32.30) scale(1.000 1) translate(-0.99 0)" fill="#000"><text class="n" font-size="48" transform="scale(0.940 1)">35</text><text class="u" font-size="47.5" transform="translate(51.65 0) scale(1.155 1)">cm</text></g>
<g transform="translate(1359 1317) rotate(90.00) scale(0.976 1) translate(-2.80 0)" fill="#000"><text class="n" font-size="48" transform="scale(0.940 1)">10</text><text class="u" font-size="47.5" transform="translate(51.06 0) scale(1.155 1)">cm</text></g>
<g transform="translate(1602 1057) rotate(90.00) scale(0.978 1) translate(-1.53 0)" fill="#000"><text class="n" font-size="48" transform="scale(0.940 1)">91</text><text class="u" font-size="47.5" transform="translate(51.65 0) scale(1.155 1)">cm</text></g>
<!-- drawer -->
<polyline points="1883,1231 1883,1272 1788,1325 1788,1349 1782,1351 1647,1271" fill="none" stroke="#000" stroke-width="12" stroke-linejoin="round" stroke-linecap="round" opacity="0.2" filter="url(#b5)"/>
<polygon points="1640,1208 1646,1204 1664,1213 1762,1158 1878,1224 1878,1267 1783,1320 1783,1344 1777,1346 1640,1264" fill="#fff" stroke="none" stroke-width="0"/>
<line x1="1645.6" y1="1194" x2="1645.6" y2="1205" stroke="#1c1c1c" stroke-width="1.4"/>
<line x1="1762" y1="1133" x2="1762" y2="1196" stroke="#1c1c1c" stroke-width="1.1"/>
<line x1="1870" y1="1190" x2="1870" y2="1226" stroke="#1c1c1c" stroke-width="1.4"/>
<line x1="1666" y1="1217" x2="1760" y2="1165" stroke="#777" stroke-width="1.2"/>
<polyline points="1698,1233 1762,1197 1838,1240" fill="none" stroke="#696969" stroke-width="2.6"/>
<line x1="1762" y1="1160" x2="1762" y2="1197" stroke="#777" stroke-width="1.2"/>
<line x1="1768" y1="1166" x2="1870" y2="1225" stroke="#777" stroke-width="1.2"/>
<line x1="1780" y1="1280" x2="1876" y2="1228" stroke="#666" stroke-width="1.3"/>
<line x1="1782" y1="1288" x2="1876" y2="1240" stroke="#696969" stroke-width="2.2"/>
<line x1="1782" y1="1297" x2="1876" y2="1250" stroke="#777" stroke-width="1.3"/>
<line x1="1783" y1="1307" x2="1876" y2="1258" stroke="#696969" stroke-width="2"/>
<line x1="1646" y1="1208" x2="1780" y2="1286" stroke="#696969" stroke-width="4"/>
<line x1="1780" y1="1286" x2="1780.5" y2="1345" stroke="#808080" stroke-width="2.4"/>
<polygon points="1640,1208 1646,1204 1664,1213 1762,1158 1878,1224 1878,1267 1783,1320 1783,1344 1777,1346 1640,1264" fill="none" stroke="#696969" stroke-width="5.6" stroke-linejoin="round"/>
<polyline points="1646,1193 1762,1130 1870,1189" fill="none" stroke="#ed1c24" stroke-width="5.4"/>
<line x1="1811" y1="1189" x2="1811" y2="1224" stroke="#ed1c24" stroke-width="5"/>
<g transform="translate(1652 1181) rotate(-28.50) scale(1.000 1) translate(-0.99 0)" fill="#000"><text class="n" font-size="48" transform="scale(0.940 1)">33</text><text class="u" font-size="47.5" transform="translate(51.29 0) scale(1.155 1)">cm</text></g>
<g transform="translate(1765 1120) rotate(28.60) scale(1.000 1) translate(-0.68 0)" fill="#000"><text class="n" font-size="48" transform="scale(0.940 1)">41</text><text class="u" font-size="47.5" transform="translate(51.65 0) scale(1.155 1)">cm</text></g>
<g transform="translate(1816 1180) rotate(90.00) scale(0.976 1) translate(-2.80 0)" fill="#000"><text class="n" font-size="48" transform="scale(0.940 1)">12</text><text class="u" font-size="47.5" transform="translate(51.11 0) scale(1.155 1)">cm</text></g>
</svg>
</body></html>
